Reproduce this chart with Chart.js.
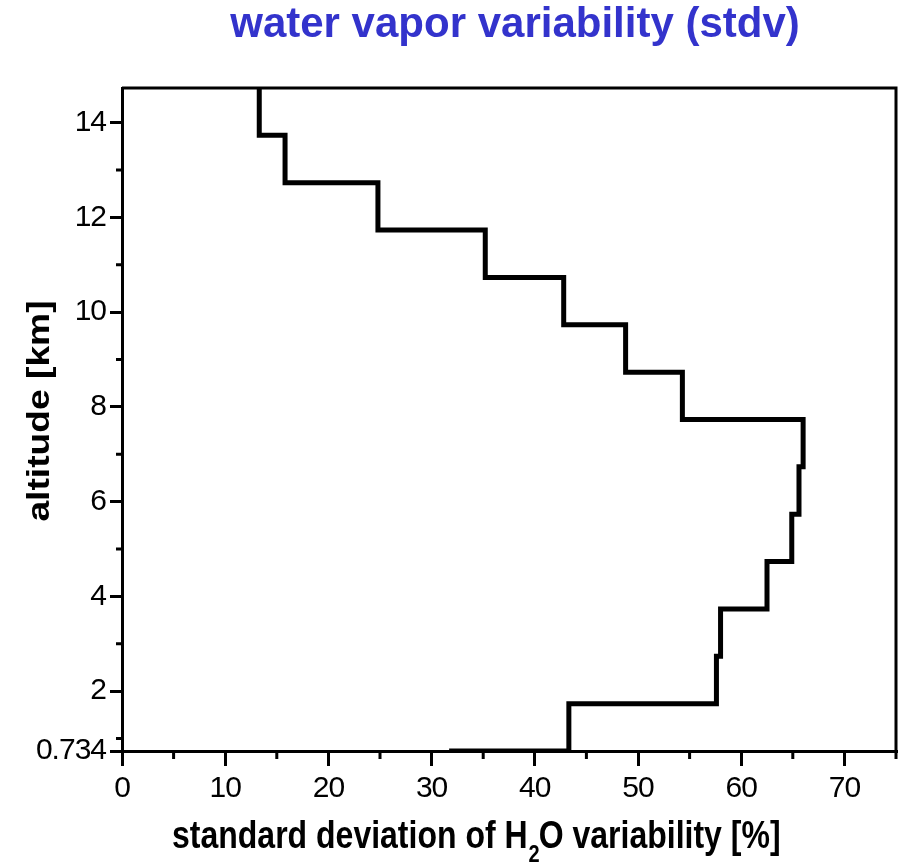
<!DOCTYPE html>
<html>
<head>
<meta charset="utf-8">
<script src="https://cdn.jsdelivr.net/npm/chart.js@4.4.1/dist/chart.umd.min.js"></script>
<style>
  html, body { margin: 0; padding: 0; background: #fff; }
  #wrap { width: 903px; height: 863px; }
</style>
</head>
<body>
<div id="wrap"><canvas id="c" width="903" height="863"></canvas></div>
<script>
// Layer boundaries (km): top of each layer, last entry = bottom of lowest layer
const altitudes = [14.734, 13.734, 12.734, 11.734, 10.734, 9.734, 8.734, 7.734, 6.734, 5.734, 4.734, 3.734, 2.734, 1.734, 0.734];
// Standard deviation of H2O variability (%) per layer (last = end of bottom step)
const stdvValues = [13.3, 15.8, 24.8, 35.2, 42.8, 48.8, 54.3, 66.0, 65.6, 64.9, 62.5, 58.0, 57.6, 43.3, 31.7];
const yTickLabels = [0.734, 2, 4, 6, 8, 10, 12, 14];
const yMinorTicks = [1, 3, 5, 7, 9, 11, 13];
const xTickLabels = [0, 10, 20, 30, 40, 50, 60, 70];
const xMinorTicks = [5, 15, 25, 35, 45, 55, 65, 75];

const titleText = 'water vapor variability (stdv)';
const yTitle = 'altitude [km]';
const xTitleParts = ['standard deviation of H', '2', 'O variability [%]'];

const points = stdvValues.map((v, i) => ({ x: v, y: altitudes[i] }));

const FONT = '"Liberation Sans", Arial, sans-serif';

const decorPlugin = {
  id: 'decor',
  beforeDraw(chart) {
    chart.ctx.letterSpacing = '-1px';
  },
  afterDraw(chart) {
    const ctx = chart.ctx;
    ctx.letterSpacing = '0px';
    const a = chart.chartArea;
    const xs = chart.scales.x, ys = chart.scales.y;
    ctx.save();
    ctx.strokeStyle = '#000';
    ctx.lineWidth = 3;
    // top and right frame
    ctx.beginPath();
    ctx.moveTo(a.left, a.top);
    ctx.lineTo(a.right, a.top);
    ctx.lineTo(a.right, a.bottom);
    ctx.stroke();
    // minor ticks
    ctx.beginPath();
    xMinorTicks.forEach(v => {
      const px = xs.getPixelForValue(v);
      ctx.moveTo(px, a.bottom);
      ctx.lineTo(px, a.bottom + 8);
    });
    yMinorTicks.forEach(v => {
      const py = ys.getPixelForValue(v);
      ctx.moveTo(a.left, py);
      ctx.lineTo(a.left - 6, py);
    });
    ctx.stroke();

    // title
    ctx.fillStyle = '#3333CC';
    ctx.font = 'bold 42px ' + FONT;
    ctx.textAlign = 'center';
    ctx.textBaseline = 'alphabetic';
    ctx.fillText(titleText, 515, 37);

    // y title (stretched along its length like the reference)
    ctx.fillStyle = '#000';
    ctx.save();
    ctx.translate(49, 411);
    ctx.rotate(-Math.PI / 2);
    ctx.scale(1.2, 1);
    ctx.font = 'bold 31px ' + FONT;
    ctx.textAlign = 'center';
    ctx.fillText(yTitle, 0, 0);
    ctx.restore();

    // x title with subscript (stretched vertically like the reference)
    ctx.save();
    ctx.translate(172, 848);
    ctx.scale(1, 1.2);
    ctx.textAlign = 'left';
    let x = 0;
    ctx.font = 'bold 32px ' + FONT;
    ctx.fillText(xTitleParts[0], x, 0);
    x += ctx.measureText(xTitleParts[0]).width;
    ctx.font = 'bold 20px ' + FONT;
    ctx.fillText(xTitleParts[1], x + 1, 12);
    x += ctx.measureText(xTitleParts[1]).width;
    ctx.font = 'bold 32px ' + FONT;
    ctx.fillText(xTitleParts[2], x, 0);
    ctx.restore();
    ctx.restore();
  }
};

new Chart(document.getElementById('c'), {
  type: 'line',
  data: {
    datasets: [{
      data: points,
      stepped: 'after',
      borderColor: '#000',
      borderWidth: 5,
      pointRadius: 0,
      fill: false,
      tension: 0
    }]
  },
  options: {
    responsive: false,
    animation: false,
    events: [],
    layout: { padding: { top: 88, left: 0, right: 7, bottom: 0 } },
    plugins: { legend: { display: false }, tooltip: { enabled: false }, title: { display: false } },
    scales: {
      x: {
        type: 'linear',
        min: 0, max: 75,
        afterFit(s) { s.height = 112; },
        afterBuildTicks(s) { s.ticks = xTickLabels.map(v => ({ value: v })); },
        grid: { display: true, drawOnChartArea: false, drawTicks: true, tickLength: 15, color: '#000', lineWidth: 3 },
        border: { display: true, color: '#000', width: 3 },
        ticks: { color: '#000', font: { family: FONT, size: 30 }, padding: 5, maxRotation: 0, autoSkip: false }
      },
      y: {
        type: 'linear',
        min: 0.734, max: 14.734,
        afterFit(s) { s.width = 122; },
        afterBuildTicks(s) { s.ticks = yTickLabels.map(v => ({ value: v })); },
        grid: { display: true, drawOnChartArea: false, drawTicks: true, tickLength: 12, color: '#000', lineWidth: 3 },
        border: { display: true, color: '#000', width: 3 },
        ticks: { color: '#000', font: { family: FONT, size: 30 }, padding: 4, autoSkip: false,
          callback: (v) => String(v) }
      }
    }
  },
  plugins: [decorPlugin]
});
</script>
</body>
</html>
